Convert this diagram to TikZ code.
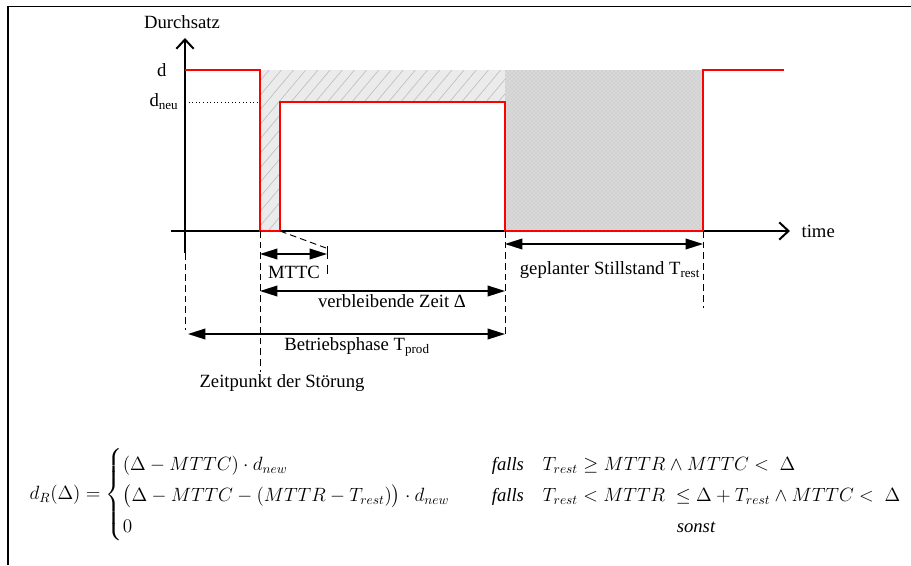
\documentclass[tikz,border=0pt]{standalone}
\usepackage{amsmath}
\usepackage{fontspec}
\setmainfont{Liberation Serif}
\usetikzlibrary{arrows.meta,patterns,patterns.meta,positioning}

\begin{document}
\begin{tikzpicture}[
  x=0.75pt, y=-0.75pt,
  lbl/.style={font=\fontsize{14}{16}\selectfont, inner sep=1pt},
  sig/.style={draw=red, line width=2.2pt},
  axis/.style={line width=1.5pt, -{Straight Barb[length=7pt,width=13pt]}},
  dim/.style={line width=1.1pt, {Triangle[length=13pt,width=8pt]}-{Triangle[length=13pt,width=8pt]}},
  guide/.style={line width=0.7pt, dash pattern=on 5pt off 3pt}
]
  \useasboundingbox (0,0) rectangle (911,565);
  % frame
  \draw[line width=1.2pt] (8,565) -- (8,6.5) -- (911,6.5);

  % time points
  \coordinate (o) at (185,231);
  \coordinate (fail) at (260,231);
  \coordinate (back) at (280,231);
  \coordinate (stop) at (505,231);
  \coordinate (rest) at (703,231);

  % shaded areas
  \fill[gray!16] (260,70) -| (505,102) -| (back) -| cycle;
  \fill[pattern={Lines[angle=50,distance=7pt,line width=0.5pt]}, pattern color=gray!50]
    (260,70) -| (505,102) -| (back) -| cycle;
  \fill[gray!30] (505,70) rectangle (rest);
  \fill[pattern=crosshatch dots, pattern color=gray!55] (505,70) rectangle (rest);

  % axes
  \coordinate (xs) at (171,231);
  \coordinate (xe) at (790,231);
  \coordinate (ys) at (185,253);
  \coordinate (ye) at (185,38);
  \draw[axis] (xs) -- (xe);
  \draw[axis] (ys) -- (ye);
  \node[lbl, anchor=west] (time) at (800,231) {time};
  \node[lbl] (durchsatz) at (182,22) {Durchsatz};
  \node[lbl, anchor=east] (dlbl) at (168,70) {d};
  \node[lbl, anchor=east] (dneu) at (180,102) {d\textsubscript{neu}};
  \draw[dotted, line width=0.7pt] (185,102) -- (260,102);

  % throughput
  \draw[sig] (185,70) -- (260,70) -- (fail) -- (back) -- (280,102) -- (505,102)
    -- (stop) -- (rest) -- (703,70) -- (784,70);

  % guide lines
  \draw[guide] (fail) -- (260,372);
  \draw[guide] (stop) -- (505,336);
  \draw[guide] (ys) -- (185,330);
  \draw[guide] (rest) -- (703,308);
  \draw[guide] (back) -- (326,248);
  \draw[line width=0.7pt, dash pattern=on 10pt off 4pt] (327,246) -- (327,274);

  % spans
  \draw[dim] (260,254) -- (327,254);
  \draw[dim] (260,291) -- (505,291);
  \draw[dim] (188,334) -- (505,334);
  \draw[dim] (505,244) -- (703,244);
  \node[lbl] (mttc) at (294,272) {MTTC};
  \node[lbl] (delta) at (392,301) {verbleibende Zeit Δ};
  \node[lbl] (tprod) at (357,347) {Betriebsphase T\textsubscript{prod}};
  \node[lbl] (trest) at (610,270) {geplanter Stillstand T\textsubscript{rest}};
  \node[lbl] (zeitpunkt) at (282,383) {Zeitpunkt der Störung};

  % formula
  \node[lbl, anchor=west] (formel) at (28,495) {\renewcommand{\arraystretch}{1.45}$\displaystyle
    d_R(\Delta) = \left\{\begin{array}{@{}l@{\qquad\;}l@{\quad}l@{}}
      (\Delta - MTTC)\cdot d_{new} & \mathit{falls} & T_{rest} \ge MTTR \wedge MTTC < \;\Delta\\
      \bigl(\Delta - MTTC - (MTTR - T_{rest})\bigr)\cdot d_{new} & \mathit{falls} & T_{rest} < MTTR \;\le \Delta + T_{rest} \wedge MTTC < \;\Delta\\
      0 & \multicolumn{2}{c}{\mathit{sonst}}
    \end{array}\right.$};
\end{tikzpicture}
\end{document}
